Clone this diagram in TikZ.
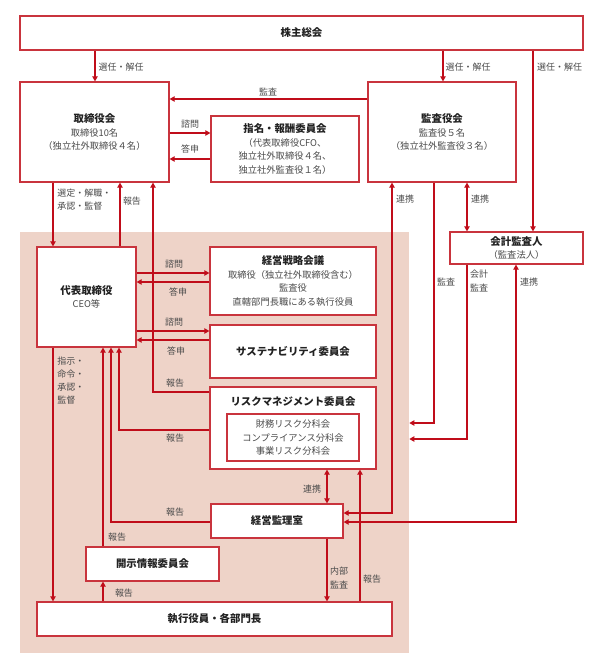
\documentclass[tikz,border=0pt]{standalone}
\usepackage{fontspec}
\setmainfont{Noto Sans CJK JP}
\usepackage{tikz}
\usetikzlibrary{arrows.meta}
\definecolor{frame}{HTML}{C00D1A}
\definecolor{edge}{HTML}{C9343D}
\definecolor{zone}{HTML}{EED3C8}
\definecolor{ink}{HTML}{222222}
\definecolor{soft}{HTML}{4A4A4A}
\newcommand\boxhead[1]{{\fontsize{7.4pt}{9.8pt}\selectfont\bfseries\color{ink}#1}}
\tikzset{
  wh/.style 2 args={minimum width=#1*0.025cm, minimum height=#2*0.025cm},
  box/.style={draw=edge, fill=white, line width=0.85pt, inner sep=0pt, align=center, text=soft, font=\fontsize{6.6pt}{9.8pt}\selectfont},
  zonebox/.style={fill=zone, inner sep=0pt},
  head/.style={text=ink, font=\fontsize{7.4pt}{9.8pt}\selectfont\bfseries, inner sep=0pt},
  lab/.style={text=soft, font=\fontsize{6.4pt}{9.4pt}\selectfont, inner sep=0pt, align=left},
  arr/.style={draw=frame, line width=0.9pt, -{Triangle[length=3.6pt,width=3.8pt]}},
  dbl/.style={draw=frame, line width=0.9pt, {Triangle[length=3.6pt,width=3.8pt]}-{Triangle[length=3.6pt,width=3.8pt]}}
}

\begin{document}
\begin{tikzpicture}[x=0.025cm, y=-0.025cm]
  \useasboundingbox (0,0) rectangle (600,667);
  \node[zonebox, wh={389}{421}] (area) at (214.5,442.5) {};

  \node[box, wh={563}{34}] (sh) at (301.5,33) {\boxhead{株主総会}};
  \node[box, wh={149}{100}] (board) at (94.5,132) {\boxhead{取締役会}\\取締役10名\\（独立社外取締役４名）};
  \node[box, wh={148}{66}] (nom) at (285,149) {\boxhead{指名・報酬委員会}\\（代表取締役CFO、\\独立社外取締役４名、\\独立社外監査役１名）};
  \node[box, wh={148}{100}] (aud) at (442,132) {\boxhead{監査役会}\\監査役５名\\（独立社外監査役３名）};
  \node[box, wh={133}{32}] (acc) at (516.5,248) {\boxhead{会計監査人}\\（監査法人）};
  \node[box, wh={99}{100}] (ceo) at (86.5,297) {\boxhead{代表取締役}\\CEO等};
  \node[box, wh={166}{68}] (strat) at (293,281) {\boxhead{経営戦略会議}\\取締役（独立社外取締役含む）\\監査役\\直轄部門長職にある執行役員};
  \node[box, wh={166}{53}] (sus) at (293,351.5) {\boxhead{サステナビリティ委員会}};
  \node[box, wh={166}{82}] (risk) at (293,428) {};
  \node[head] (riskhead) at (293,402) {リスクマネジメント委員会};
  \node[box, wh={132}{47}] (sub) at (293,437.5) {財務リスク分科会\\コンプライアンス分科会\\事業リスク分科会};
  \node[box, wh={132}{34}] (mao) at (277,521) {\boxhead{経営監理室}};
  \node[box, wh={133}{34}] (disc) at (152.5,564) {\boxhead{開示情報委員会}};
  \node[box, wh={355}{34}] (exe) at (214.5,619) {\boxhead{執行役員・各部門長}};

  \draw[arr] (sh.south -| 95,0) -- (board.north -| 95,0);
  \draw[arr] (sh.south -| 443,0) -- (aud.north -| 443,0);
  \draw[arr] (sh.south -| 533,0) -- (acc.north -| 533,0);
  \draw[arr] (aud.west |- 0,99) -- (board.east |- 0,99);
  \draw[arr] (board.east |- 0,133) -- (nom.west |- 0,133);
  \draw[arr] (nom.west |- 0,159) -- (board.east |- 0,159);
  \draw[arr] (board.south -| 53,0) -- (ceo.north -| 53,0);
  \draw[arr] (ceo.north -| 120,0) -- (board.south -| 120,0);
  \draw[arr] (risk.west |- 0,392) -| (board.south -| 153,0);
  \draw[arr] (ceo.east |- 0,273) -- (strat.west |- 0,273);
  \draw[arr] (strat.west |- 0,282) -- (ceo.east |- 0,282);
  \draw[arr] (ceo.east |- 0,331) -- (sus.west |- 0,331);
  \draw[arr] (sus.west |- 0,340) -- (ceo.east |- 0,340);
  \draw[arr] (risk.west |- 0,430) -| (ceo.south -| 119,0);
  \draw[arr] (mao.west |- 0,522) -| (ceo.south -| 111,0);
  \draw[arr] (disc.north -| 103,0) -- (ceo.south -| 103,0);
  \draw[arr] (ceo.south -| 53,0) -- (exe.north -| 53,0);
  \draw[arr] (exe.north -| 103,0) -- (disc.south -| 103,0);
  \draw[dbl] (risk.south -| 327,0) -- (mao.north -| 327,0);
  \draw[arr] (mao.south -| 327,0) -- (exe.north -| 327,0);
  \draw[arr] (exe.north -| 360,0) -- (risk.south -| 360,0);
  \draw[dbl] (aud.south -| 392,0) |- (mao.east |- 0,513);
  \draw[arr] (aud.south -| 434,0) |- (area.east |- 0,423);
  \draw[dbl] (aud.south -| 467,0) -- (acc.north -| 467,0);
  \draw[arr] (acc.south -| 467,0) |- (area.east |- 0,439);
  \draw[dbl] (mao.east |- 0,522) -| (acc.south -| 516,0);

  \node[lab] (lsel1) at (121,67) {選任・解任};
  \node[lab] (lsel2) at (468,67) {選任・解任};
  \node[lab] (lsel3) at (559.5,67) {選任・解任};
  \node[lab] (laud1) at (268,92) {監査};
  \node[lab] (lask1) at (190,124) {諮問};
  \node[lab] (lans1) at (190,149) {答申};
  \node[lab, anchor=west] (lsel) at (57,199.5) {選定・解職・\\承認・監督};
  \node[lab] (lrep1) at (132,201) {報告};
  \node[lab] (lask2) at (174,264) {諮問};
  \node[lab] (lans2) at (178,292) {答申};
  \node[lab] (lask3) at (174,322) {諮問};
  \node[lab] (lans3) at (176,351) {答申};
  \node[lab] (lrep2) at (175,383) {報告};
  \node[lab, anchor=west] (lcmd) at (57,380.5) {指示・\\命令・\\承認・\\監督};
  \node[lab] (lrep3) at (175,438) {報告};
  \node[lab] (lrep4) at (175,512) {報告};
  \node[lab] (lrep5) at (117,537) {報告};
  \node[lab] (lrep6) at (124,593) {報告};
  \node[lab] (lco1) at (312,489) {連携};
  \node[lab] (lint) at (339,578) {内部\\監査};
  \node[lab] (lrep7) at (372,579) {報告};
  \node[lab] (lco2) at (405,199) {連携};
  \node[lab] (laud2) at (446,282) {監査};
  \node[lab] (lco3) at (480,199) {連携};
  \node[lab] (lacc) at (479,281) {会計\\監査};
  \node[lab] (lco4) at (529,282) {連携};
\end{tikzpicture}
\end{document}
